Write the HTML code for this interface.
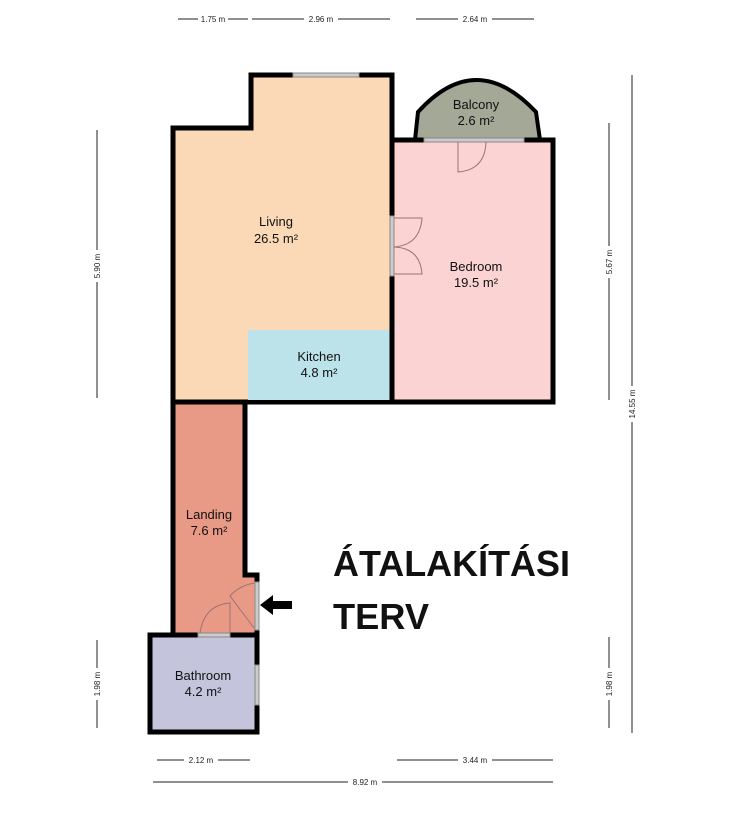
<!DOCTYPE html>
<html><head><meta charset="utf-8"><style>
html,body{margin:0;padding:0;background:#fff}
svg{display:block}
text{font-family:"Liberation Sans",sans-serif}
</style></head><body>
<svg width="730" height="818" viewBox="0 0 730 818" xmlns="http://www.w3.org/2000/svg">
<g stroke="#222" stroke-width="1" fill="none">
<line x1="178" y1="19" x2="248" y2="19"/><line x1="252" y1="19" x2="390" y2="19"/><line x1="416" y1="19" x2="534" y2="19"/>
<line x1="97" y1="130" x2="97" y2="398"/><line x1="97" y1="640" x2="97" y2="728"/>
<line x1="609" y1="123" x2="609" y2="400"/><line x1="609" y1="637" x2="609" y2="728"/>
<line x1="632" y1="75" x2="632" y2="733"/>
<line x1="157" y1="760" x2="250" y2="760"/><line x1="397" y1="760" x2="553" y2="760"/>
<line x1="153" y1="782" x2="553" y2="782"/>
</g>
<g font-size="8" fill="#222" text-anchor="middle">
<rect x="198" y="14" width="30" height="10" fill="#fff"/><text x="213" y="22">1.75 m</text>
<rect x="304" y="14" width="34" height="10" fill="#fff"/><text x="321" y="22">2.96 m</text>
<rect x="458" y="14" width="34" height="10" fill="#fff"/><text x="475" y="22">2.64 m</text>
<rect x="184" y="755" width="34" height="10" fill="#fff"/><text x="201" y="763">2.12 m</text>
<rect x="458" y="755" width="34" height="10" fill="#fff"/><text x="475" y="763">3.44 m</text>
<rect x="348" y="777" width="34" height="10" fill="#fff"/><text x="365" y="785">8.92 m</text>
<g transform="translate(100,266) rotate(-90)"><rect x="-16" y="-8" width="32" height="10" fill="#fff"/><text x="0" y="0">5.90 m</text></g>
<g transform="translate(100,684) rotate(-90)"><rect x="-16" y="-8" width="32" height="10" fill="#fff"/><text x="0" y="0">1.98 m</text></g>
<g transform="translate(612,262) rotate(-90)"><rect x="-16" y="-8" width="32" height="10" fill="#fff"/><text x="0" y="0">5.67 m</text></g>
<g transform="translate(612,684) rotate(-90)"><rect x="-16" y="-8" width="32" height="10" fill="#fff"/><text x="0" y="0">1.98 m</text></g>
<g transform="translate(635,404) rotate(-90)"><rect x="-18" y="-8" width="36" height="10" fill="#fff"/><text x="0" y="0">14.55 m</text></g>
</g>
<path d="M415 140 L418 112 Q476 48 536 112 L540 140 Z" fill="#a4a896" stroke="#000" stroke-width="4"/>
<path d="M251 75 L392 75 L392 402 L173 402 L173 128 L251 128 Z" fill="#fcd9b6" stroke="#000" stroke-width="5"/>
<rect x="248" y="330" width="142" height="70" fill="#bde3ea"/>
<rect x="392" y="140" width="161" height="262" fill="#fbd3d3" stroke="#000" stroke-width="5"/>
<path d="M173 402 L245 402 L245 575 L257 575 L257 635 L173 635 Z" fill="#e89a86" stroke="#000" stroke-width="5"/>
<rect x="150" y="635" width="107" height="97" fill="#c4c4dc" stroke="#000" stroke-width="5"/>
<g fill="#ccc" stroke="#888" stroke-width="1">
<rect x="293" y="73" width="66" height="4"/>
<rect x="424" y="138" width="100" height="4"/>
<rect x="390" y="216" width="4" height="60"/>
<rect x="198" y="633" width="32" height="4"/>
<rect x="255" y="582" width="4" height="48"/>
<rect x="255" y="665" width="4" height="40"/>
</g>
<g fill="none" stroke="#a07070" stroke-width="1">
<path d="M458 142 L458 172 Q485 170 486 142"/>
<path d="M394 218 L422 218 Q420 245 394 247"/>
<path d="M394 274 L422 274 Q420 248 394 247"/>
<path d="M200 633 Q204 605 230 603 L230 633"/>
<path d="M254 628 L230 596 Q240 585 255 583"/>
</g>
<g font-size="13" fill="#111" text-anchor="middle">
<text x="276" y="226">Living</text><text x="276" y="243">26.5 m²</text>
<text x="476" y="271">Bedroom</text><text x="476" y="287">19.5 m²</text>
<text x="319" y="361">Kitchen</text><text x="319" y="377">4.8 m²</text>
<text x="476" y="109">Balcony</text><text x="476" y="125">2.6 m²</text>
<text x="209" y="519">Landing</text><text x="209" y="535">7.6 m²</text>
<text x="203" y="680">Bathroom</text><text x="203" y="696">4.2 m²</text>
</g>
<path d="M260 605 L273 595 L273 601 L292 601 L292 609 L273 609 L273 615 Z" fill="#000"/>
<text x="333" y="576" font-size="36" font-weight="bold" fill="#111" textLength="237" lengthAdjust="spacingAndGlyphs">ÁTALAKÍTÁSI</text>
<text x="333" y="629" font-size="36" font-weight="bold" fill="#111" textLength="96" lengthAdjust="spacingAndGlyphs">TERV</text>
</svg>
</body></html>
